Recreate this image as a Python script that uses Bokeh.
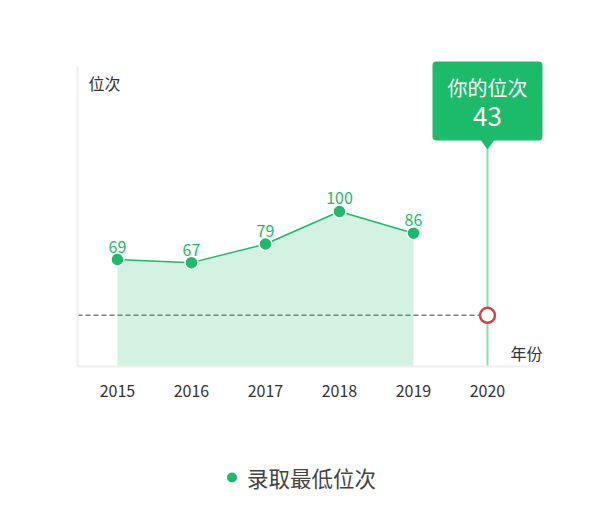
from bokeh.plotting import figure
from bokeh.layouts import column
from bokeh.models import Range1d, FixedTicker, BoxAnnotation, PolyAnnotation, Label
from bokeh.core.properties import value
from bokeh.embed import file_html
from bokeh.resources import INLINE

# ---- data ----
years = [2015, 2016, 2017, 2018, 2019]
min_rank = [69, 67, 79, 100, 86]
rank_labels = ["69", "67", "79", "100", "86"]
tick_years = [2015, 2016, 2017, 2018, 2019, 2020]
target_year = 2020
your_rank = 43
your_rank_level = 33      # height at which the reference draws the "your rank" marker
series_name = "录取最低位次"
y_title = "位次"
x_title = "年份"
callout_title = "你的位次"

FONT = "Noto Sans CJK SC"
GREEN = "#1bbb69"
AREA = "#d3f2e2"
VLINE = "#8edbb3"
RED = "#d8433c"
GRAY = "#808080"
AXIS = "#efefef"
TEXT = "#333333"

# ranges / geometry
x0, x1 = 2014.46, 2021.0
y0, y1 = 0, 210.3
frame_h = 326
ppu = frame_h / (y1 - y0)          # pixels per y-unit
ppx = 484 / (x1 - x0)              # pixels per year

p = figure(width=602, height=430, output_backend="svg", toolbar_location=None,
           x_range=Range1d(x0, x1), y_range=Range1d(y0, y1),
           min_border_left=77, min_border_right=41, min_border_top=40, min_border_bottom=64)
p.outline_line_color = None
p.grid.visible = False
p.background_fill_color = "white"
p.border_fill_color = "white"

# axes
p.xaxis.ticker = FixedTicker(ticks=tick_years)
p.xaxis.bounds = (x0, tick_years[-1] + 0.54)
p.xaxis.axis_line_color = AXIS
p.xaxis.axis_line_width = 2
p.xaxis.major_tick_line_color = None
p.xaxis.minor_tick_line_color = None
p.xaxis.major_label_standoff = 12
p.xaxis.major_label_text_font = FONT
p.xaxis.major_label_text_font_size = "16px"
p.xaxis.major_label_text_color = TEXT

axis_top = 300 / ppu
p.yaxis.ticker = FixedTicker(ticks=[])
p.yaxis.bounds = (y0, axis_top)
p.yaxis.axis_line_color = AXIS
p.yaxis.axis_line_width = 2
p.yaxis.major_tick_line_color = None
p.yaxis.minor_tick_line_color = None

# area + line
p.varea(x=years, y1=[y0] * len(years), y2=min_rank, fill_color=AREA)
p.line(x=years, y=min_rank, line_color=GREEN, line_width=1.5)

# your-rank reference
callout_bottom = (366 - 140) / ppu
callout_top = (366 - 61) / ppu
p.segment(x0=[x0], y0=[your_rank_level], x1=[target_year], y1=[your_rank_level],
          line_color=GRAY, line_width=1.5, line_dash="5 3")
p.segment(x0=[target_year], y0=[y0], x1=[target_year], y1=[callout_bottom],
          line_color=VLINE, line_width=2)
p.scatter(x=[target_year], y=[your_rank_level], marker="circle", size=15,
          fill_color="white", line_color=RED, line_width=2.5)

p.scatter(x=years, y=min_rank, marker="circle", size=13, fill_color=GREEN,
          line_color="white", line_width=1.5)
p.text(x=years, y=min_rank, text=rank_labels, text_align="center", text_baseline="bottom",
       y_offset=-7, text_font=value(FONT), text_font_size="16px", text_color=GREEN)

# callout box
half_w = 55 / ppx
p.add_layout(BoxAnnotation(left=target_year - half_w, right=target_year + half_w,
                           bottom=callout_bottom, top=callout_top,
                           fill_color=GREEN, fill_alpha=1, line_color=None,
                           border_radius=4))
tri_w = 7 / ppx
p.add_layout(PolyAnnotation(xs=[target_year - tri_w, target_year + tri_w, target_year],
                            ys=[callout_bottom + 0.5, callout_bottom + 0.5, callout_bottom - 9 / ppu],
                            fill_color=GREEN, fill_alpha=1, line_color=None))
p.add_layout(Label(x=target_year, y=callout_top - 26 / ppu, text=callout_title,
                   text_align="center", text_baseline="middle", text_color="white",
                   text_font=FONT, text_font_size="20px"))
p.add_layout(Label(x=target_year, y=callout_top - 55 / ppu, text=str(your_rank),
                   text_align="center", text_baseline="middle", text_color="white",
                   text_font=FONT, text_font_size="26px"))

# axis titles
p.add_layout(Label(x=x0 + 11 / ppx, y=(366 - 82) / ppu, text=y_title, text_align="left",
                   text_baseline="middle", text_color=TEXT, text_font=FONT,
                   text_font_size="16px"))
p.add_layout(Label(x=target_year + 23 / ppx, y=(366 - 352) / ppu, text=x_title,
                   text_align="left", text_baseline="middle", text_color=TEXT,
                   text_font=FONT, text_font_size="16px"))

# legend strip: its frame is aligned with the main frame (page x 77..561), 1 unit = 1 px
lg = figure(width=602, height=84, output_backend="svg", toolbar_location=None,
            x_range=Range1d(77, 561), y_range=Range1d(0, 84),
            x_axis_location=None, y_axis_location=None,
            min_border_left=0, min_border_right=0, min_border_top=0, min_border_bottom=0)
lg.grid.visible = False
lg.outline_line_color = None
lg.scatter(x=[231.5], y=[37], marker="circle", size=10, fill_color=GREEN, line_color=None)
lg.text(x=[246.5], y=[37], text=[series_name], text_align="left", text_baseline="middle",
        text_font=value(FONT), text_font_size="21.5px", text_color="#444444")

open("out.html", "w").write(file_html(column(p, lg, spacing=0), INLINE))
